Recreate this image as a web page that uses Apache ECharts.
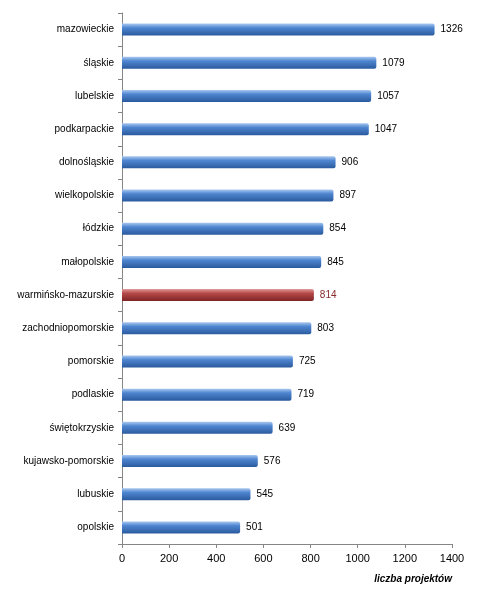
<!DOCTYPE html>
<html><head><meta charset="utf-8">
<script src="https://cdn.jsdelivr.net/npm/echarts@6/dist/echarts.min.js"></script>
<style>html,body{margin:0;padding:0;background:#fff}#c{width:477px;height:599px}</style>
</head><body><div id="c"></div>
<script>
const categories = ["mazowieckie","śląskie","lubelskie","podkarpackie","dolnośląskie","wielkopolskie","łódzkie","małopolskie","warmińsko-mazurskie","zachodniopomorskie","pomorskie","podlaskie","świętokrzyskie","kujawsko-pomorskie","lubuskie","opolskie"];
const values = [1326,1079,1057,1047,906,897,854,845,814,803,725,719,639,576,545,501];
const highlight = "warmińsko-mazurskie";
const xTicks = [0,200,400,600,800,1000,1200,1400];

const grad = (c1,c2,c3)=>new echarts.graphic.LinearGradient(0,0,0,1,[{offset:0,color:c1},{offset:0.35,color:c2},{offset:1,color:c3}]);
const blue = grad('#a9c8f0','#4f86d0','#2a5a9e');
const red = grad('#e09a9a','#b54848','#7f2424');

const chart = echarts.init(document.getElementById('c'));
chart.setOption({
  animation:false,
  grid:{left:122,right:25,top:13,bottom:55,containLabel:false},
  xAxis:{type:'value',min:0,max:1400,interval:200,
    axisLine:{show:true,lineStyle:{color:'#868686'}},
    axisTick:{show:true,length:4,lineStyle:{color:'#868686'}},
    splitLine:{show:false},
    axisLabel:{color:'#000',fontFamily:'Liberation Sans, Arial',fontSize:11,margin:9,formatter:v=>xTicks.includes(v)?String(v):''},
    name:'liczba projektów',nameLocation:'end',nameGap:0,
    nameTextStyle:{fontStyle:'italic',fontWeight:'bold',fontSize:10,color:'#000',fontFamily:'Liberation Sans, Arial',align:'right',verticalAlign:'top',padding:[30,0,0,0]}
  },
  yAxis:{type:'category',data:categories,inverse:true,
    axisLine:{show:true,lineStyle:{color:'#868686'}},
    axisTick:{show:true,length:4,lineStyle:{color:'#868686'}},
    axisLabel:{color:'#000',fontFamily:'Liberation Sans, Arial',fontSize:10,margin:8}
  },
  series:[{type:'bar',barWidth:12,
    data:values.map((v,i)=>({value:v,itemStyle:{color:categories[i]===highlight?red:blue,borderRadius:[0,2,2,0]},
      label:{color:categories[i]===highlight?'#8b2a2a':'#000'}})),
    label:{show:true,position:'right',distance:6,fontSize:10,fontFamily:'Liberation Sans, Arial'}
  }]
});
</script></body></html>
